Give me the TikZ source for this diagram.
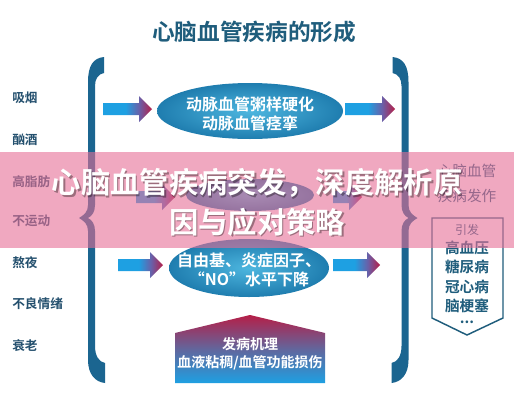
\documentclass[tikz,border=0pt]{standalone}
\usepackage{fontspec}
\setmainfont{Noto Sans CJK SC}[BoldFont={Noto Sans CJK SC Bold}]
\usetikzlibrary{shapes.geometric}
\definecolor{teal1}{HTML}{1B6590}
\definecolor{titlec}{HTML}{1F5D7C}
\definecolor{arblue}{HTML}{1EA0E2}
\definecolor{arred}{HTML}{B51F48}
\definecolor{armid}{HTML}{6A5FA8}
\definecolor{elin}{HTML}{4DB6DF}
\definecolor{elout}{HTML}{1F7DAF}
\definecolor{pink1}{HTML}{E66E96}
\definecolor{labc}{HTML}{24506E}
\pgfdeclarehorizontalshading{arrsh}{100bp}{color(0bp)=(arblue); color(25bp)=(arblue); color(48bp)=(arblue); color(62bp)=(armid); color(75bp)=(arred); color(100bp)=(arred)}
\tikzset{
  arrowshade/.style={shading=arrsh},
  ellshade/.style={inner color=elin, outer color=elout},
  lab/.style={anchor=west, inner sep=0pt, font=\bfseries\fontsize{9.5pt}{11pt}\selectfont, text=labc},
  elltext/.style={align=center, inner sep=0pt, text=white, font=\bfseries\fontsize{12pt}{14pt}\selectfont},
  rtext/.style={inner sep=0pt, text=titlec, font=\fontsize{11pt}{13pt}\selectfont},
  dtext/.style={inner sep=0pt, text=titlec, font=\bfseries\fontsize{11pt}{13pt}\selectfont},
  bantext/.style={inner sep=0pt, text=white, font=\bfseries\fontsize{22pt}{26pt}\selectfont},
  banshadow/.style={inner sep=0pt, text=black, opacity=0.35, font=\bfseries\fontsize{22pt}{26pt}\selectfont},
}
\newcommand\grarrow[3]{\shade[arrowshade] ({#1},{#3-6}) -- ({#2-13},{#3-6}) -- ({#2-13},{#3-13}) -- ({#2},{#3}) -- ({#2-13},{#3+13}) -- ({#2-13},{#3+6}) -- ({#1},{#3+6}) -- cycle;}
\newcommand\bracepath{(104,57) .. controls (93,58) and (88,66) .. (88,82) -- (88,205) .. controls (88,212) and (84,215) .. (79,218) .. controls (84,221) and (88,224) .. (88,231) -- (88,360) .. controls (88,374) and (95,382) .. (105,383) -- (105,363) .. controls (99,362) and (95,356) .. (95,346) -- (95,231) .. controls (95,224) and (92,220) .. (88,218) .. controls (92,216) and (95,212) .. (95,205) -- (95,86) .. controls (95,79) and (98,74) .. (104,73) -- cycle}
\begin{document}
\begin{tikzpicture}[x=0.75pt,y=-0.75pt]
\useasboundingbox (0,0) rectangle (514,400);
\fill[white] (0,0) rectangle (514,400);
% title
\node[inner sep=0pt, text=titlec, font=\bfseries\fontsize{17pt}{20pt}\selectfont] (title) at (254,32) {心脑血管疾病的形成};
% braces
\fill[teal1] \bracepath;
\begin{scope}[xshift=496.5*0.75pt, xscale=-1]
\fill[teal1] \bracepath;
\end{scope}
% left labels
\node[lab] (l1) at (12,98) {吸烟};
\node[lab] (l2) at (12,140) {酗酒};
\node[lab] (l3) at (12,182) {高脂肪};
\node[lab] (l4) at (12,221) {不运动};
\node[lab] (l5) at (12,263) {熬夜};
\node[lab] (l6) at (12,304) {不良情绪};
\node[lab] (l7) at (12,346) {衰老};
% arrows
\grarrow{103}{152}{109}
\grarrow{345}{395}{109}
\grarrow{136}{175}{197}
\grarrow{333}{362}{197}
\grarrow{118}{163}{265}
\grarrow{333}{380}{265}
% ellipses
\shade[ellshade] (250,111) ellipse [x radius=93, y radius=28];
\node[elltext] (e1) at (250,114) {动脉血管粥样硬化\\动脉血管痉挛};
\shade[ellshade] (250,195) ellipse [x radius=64, y radius=16];
\node (e2) at (250,195) {};
\shade[ellshade] (249,268) ellipse [x radius=80, y radius=29];
\node[elltext] (e3) at (249,270) {自由基、炎症因子、\\“NO”水平下降};
% bottom house
\shade[top color=arred, bottom color=arblue, middle color=arred!45!arblue] (175,333) -- (250,315) -- (325,333) -- (325,383) -- (175,383) -- cycle;
\node[align=center, inner sep=0pt, text=white, font=\bfseries\fontsize{10.5pt}{13.5pt}\selectfont] (mech) at (250,354) {发病机理\\血液粘稠/血管功能损伤};
% right side
\node[rtext] (r1) at (467,171) {心脑血管};
\node[rtext] (r2) at (467,196) {疾病发作};
\draw[titlec, line width=1.1pt] (432,218) -- (503,218) -- (503,318) -- (467,335) -- (432,318) -- cycle;
\node[inner sep=0pt, text=titlec, font=\fontsize{9pt}{11pt}\selectfont] (yf) at (467,230) {引发};
\node[dtext] (d1) at (467,248) {高血压};
\node[dtext] (d2) at (467,267) {糖尿病};
\node[dtext] (d3) at (467,287) {冠心病};
\node[dtext] (d4) at (467,306) {脑梗塞};
\node[dtext] (d5) at (467,322) {...};
% banner
\fill[pink1, opacity=0.6] (0,152) rectangle (514,248);
\node[banshadow] at (258.5,184.5) {心脑血管疾病突发，深度解析原};
\node[banshadow] at (258.5,223.5) {因与应对策略};
\node[bantext] (b1) at (257,183) {心脑血管疾病突发，深度解析原};
\node[bantext] (b2) at (257,222) {因与应对策略};
\end{tikzpicture}
\end{document}
